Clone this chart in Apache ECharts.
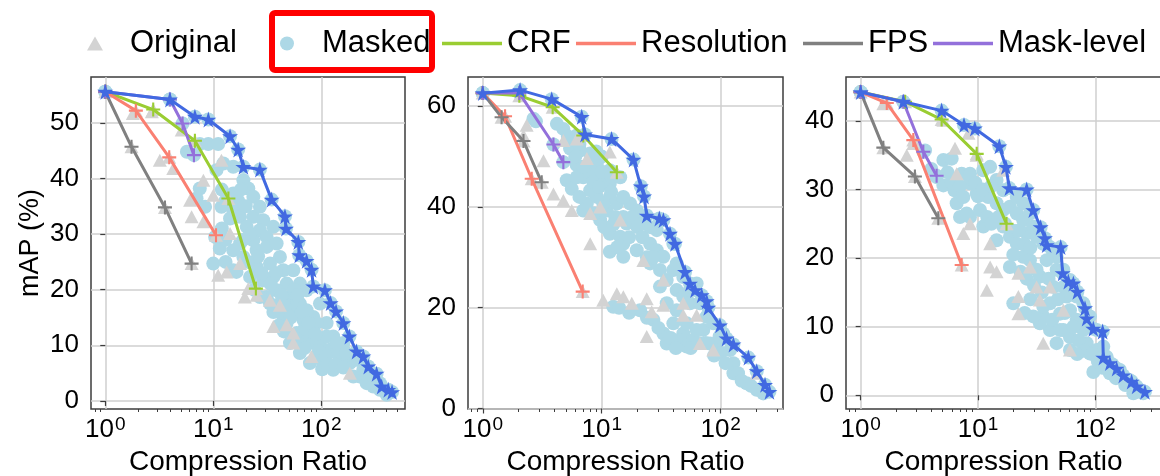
<!DOCTYPE html>
<html>
<head>
<meta charset="utf-8">
<title>mAP vs Compression Ratio</title>
<script src="https://cdn.jsdelivr.net/npm/echarts@6.0.0/dist/echarts.min.js"></script>
<style>
  html, body { margin: 0; padding: 0; background: #ffffff; }
  #chart { width: 1160px; height: 476px; }
</style>
</head>
<body>
<div id="chart"></div>
<script>
// ---------- data: [compression ratio, mAP (%)] ----------
const p1Original = [[1,55.6],[1.8,51.7],[2.7,52.0],[3.2,43.3],[4.26,41.8],[5.1,48.7],[6.1,36.1],[6.3,33.1],[8.1,39.7],[8.1,32.2],[10,37.0],[11.9,43.3],[14.3,30.1],[13.3,23.2],[11.1,22.6],[19.6,18.7],[21.1,20.2],[25.2,19.0],[33.5,18.1],[36.0,13.4],[41.4,17.2],[47.8,13.7],[55.1,12.2],[55.1,10.4],[81,8.0],[184,5.0],[17.7,24.7]];
const p1Masked = [[1,55.6],[5.7,44.8],[7.5,46.2],[9.0,46.2],[11.1,46.2],[12.4,42.7],[15.3,42.1],[10.7,41.5],[7.5,38.2],[7.0,36.4],[8.4,34.9],[11.9,34.9],[15.3,37.3],[19.0,39.7],[21.1,38.2],[23.5,36.7],[15.3,34.3],[14.3,32.8],[17.7,33.1],[23.5,33.1],[27.0,34.9],[29.0,32.5],[20.4,31.3],[27.0,30.7],[36.0,31.3],[31.2,29.5],[23.5,28.9],[17.7,28.3],[15.3,27.1],[11.5,27.4],[10.4,29.5],[10,24.7],[15.3,23.5],[16.4,23.2],[19.0,25.9],[25.2,27.1],[31.2,27.7],[38.6,28.3],[41.4,25.9],[33.5,24.7],[25.2,24.1],[21.9,22.3],[29.0,21.7],[36.0,22.3],[44.5,23.5],[47.8,21.1],[38.6,19.9],[31.2,18.7],[33.5,17.5],[27.0,18.7],[41.4,17.5],[51.3,18.7],[55.1,16.3],[47.8,14.0],[63.4,17.5],[68.1,14.6],[59.1,12.2],[73.1,11.6],[51.3,10.4],[84.3,10.4],[63.4,8.6],[90.5,8.0],[104,6.8],[78.5,6.8],[129,5.6],[102,5.7],[120,9.2],[149,7.4],[184,6.8],[198,4.4],[228,4.4],[263,3.2],[303,2.6],[349,2.0],[403,1.1],[97.2,17.5],[84.3,15.1],[112,14.0],[129,11.6],[160,10.4],[55.1,23.5],[63.4,21.1],[73.1,19.9],[84.3,12.8],[97.2,10.4],[139,8.6],[44.5,15.1],[59.1,17.5],[73.1,16.3],[90.5,14.0],[112,11.6],[139,10.4],[171,8.6],[212,7.4],[245,5.6],[303,4.4],[349,3.2],[12,38],[13,36],[17,36],[18,38],[20,35],[22,30],[26,26],[28,23],[34,21],[38,23],[43,19],[46,17],[52,15],[56,20],[60,19],[66,16],[70,13],[76,14],[88,12],[95,9],[110,8],[115,6.5],[135,6.5],[160,6],[12,31],[13,29],[19,29],[21,25],[13,25],[24,20],[36,16],[40,13.5],[45,12.5],[60,10.5],[70,9.5]];
const p1Crf = [[1,55.6],[2.78,52.4],[6.76,46.8],[13.8,36.4],[24.8,20.2]];
const p1Resolution = [[1,55.6],[1.92,52.2],[3.91,43.8],[10.6,29.8]];
const p1Fps = [[1,55.6],[1.75,45.7],[3.57,34.8],[6.3,24.7]];
const p1MaskLevel = [[1,55.6],[3.97,54.2],[5.2,49.9],[6.62,44.2]];
const p1Pareto = [[1,55.6],[3.97,54.2],[6.76,51.1],[9.0,50.6],[14.3,47.6],[17.0,45.2],[19.0,42.1],[27.0,41.6],[34.7,36.2],[46.1,33.2],[47.1,31.0],[61.3,28.6],[62.5,26.2],[73.1,25.2],[81.3,23.6],[84.3,20.6],[108,19.9],[122,17.6],[137,16.1],[160,14.0],[182,11.6],[212,8.9],[245,8.0],[272,6.2],[325,4.9],[362,2.6],[417,2.0],[452,1.6]];

const p2Original = [[1,62.6],[2.2,54.2],[2.34,56.2],[3.24,49.2],[3.93,42.6],[4.76,41.3],[5.6,39.3],[4.76,53.2],[6.17,53.5],[7.5,49.6],[8.0,32.7],[9.7,40.0],[8.0,38.7],[10.3,21.5],[13.4,22.8],[11.7,50.9],[15.2,22.2],[17.9,20.9],[23.9,21.8],[26.3,19.2],[33.0,20.5],[33.0,25.5],[48.5,20.9],[48.5,18.5],[23.9,14.3],[62.8,18.5],[67.0,12.9],[86.7,11.6],[201,7.0],[22.4,29.4],[14.3,37.4]];
const p2Masked = [[1,62.6],[2.67,57.5],[2.8,57.0],[4.76,55.5],[6.17,54.2],[5.6,53.2],[5.42,51.6],[6.58,51.2],[8.0,50.6],[9.1,48.6],[6.17,48.3],[5.08,45.3],[5.6,43.6],[7.0,45.9],[8.0,47.3],[10.3,44.6],[11.7,44.6],[7.5,40.7],[7.0,39.3],[9.7,37.4],[11.0,39.3],[15.2,38.0],[16.2,36.7],[13.4,40.7],[17.3,40.7],[11.7,34.7],[14.3,34.1],[11.7,31.1],[15.2,32.7],[19.7,31.4],[25.5,32.7],[29.0,31.4],[25.5,28.8],[33.0,30.1],[30.9,27.5],[35.2,25.5],[40.0,27.5],[42.7,23.5],[48.5,22.2],[55.2,20.9],[62.8,24.8],[12.5,20.2],[21.0,19.5],[27.2,17.6],[33.0,14.9],[40.0,16.9],[48.5,14.9],[35.2,12.9],[45.5,13.6],[51.8,12.3],[58.9,13.6],[71.4,15.6],[81.3,12.9],[92.5,12.3],[105,14.9],[120,11.6],[128,9.0],[128,7.0],[165,5.0],[201,3.7],[228,3.0],[29.0,35.4],[25.5,36.0],[22.4,37.4],[19.7,39.3],[15.2,42.0],[11.7,42.0],[10.3,40.7],[9.1,42.0],[8.6,38.7],[8.0,43.3],[6.17,45.9],[9.1,46.6],[11.7,47.3],[14.3,45.9],[40.0,32.7],[42.7,28.8],[48.5,26.1],[55.2,23.5],[67.0,20.9],[76.0,18.2],[86.7,16.9],[98.0,14.3],[30.9,24.2],[35.2,20.9],[42.7,19.5],[51.8,16.9],[62.8,15.6],[15.2,30.1],[4.2,56.5],[5.2,54],[6.5,52.5],[9,51],[10,50],[6,50],[7,48],[8.5,45],[10,47],[12,46],[6.5,42],[9.5,44],[12,43],[13,38],[10.5,36],[12.5,36.5],[13.5,32],[17,34],[18,38],[20,36],[22,34],[24,30],[27,30],[14,20],[17,19],[24,18],[30,16],[38,14],[42,12],[56,12],[65,13],[75,13],[88,10.5],[100,11],[110,9],[140,7],[150,5.5],[180,4.5]];
const p2Crf = [[1,62.6],[2.03,62.1],[3.87,59.8],[7.0,54.2],[13.4,46.9]];
const p2Resolution = [[1,62.6],[1.54,58.0],[2.58,45.6],[6.92,23.2]];
const p2Fps = [[1,62.6],[1.44,57.8],[2.2,53.1],[3.13,44.9]];
const p2MaskLevel = [[1,62.6],[2.03,62.6],[3.93,52.4],[4.76,48.9]];
const p2Pareto = [[1,62.6],[2.06,63.2],[3.80,61.4],[6.79,57.9],[7.24,54.4],[12.1,53.5],[18.5,49.4],[21.3,44.1],[22.7,42.1],[23.9,38.3],[30.5,37.7],[33.0,37.4],[37.5,34.7],[41.3,32.7],[50.2,27.1],[55.2,24.8],[60.9,23.5],[69.2,22.5],[76.3,21.3],[78.7,20.0],[98.7,16.5],[112,13.9],[128,12.7],[171,10.1],[201,7.4],[236,4.7],[257,3.3]];

const p3Original = [[1,44.2],[1.56,42.5],[2.47,35.0],[2.81,36.7],[5.07,40.1],[6.37,36.0],[6.58,32.3],[7.5,23.6],[8.55,25.0],[8.3,38.2],[9.75,35.0],[11.9,15.3],[12.7,22.1],[12.7,18.7],[14.4,18.0],[16.4,32.8],[22.1,17.8],[22.1,14.4],[22.1,11.9],[27.7,18.7],[31.6,15.8],[33.7,13.9],[36.0,7.6],[41.1,15.8],[53.4,12.4],[60.8,6.6]];
const p3Masked = [[1,44.2],[3.54,35.7],[5.07,34.3],[5.97,34.5],[7.26,32.3],[4.44,31.8],[5.07,30.6],[6.3,29.9],[6.58,28.0],[7.5,28.9],[8.55,30.9],[8.55,32.3],[11.1,32.8],[12.7,33.3],[12.2,28.9],[10.4,27.0],[8.55,26.0],[11.1,24.6],[7.03,26.0],[8.0,26.5],[14.4,28.0],[16.4,27.0],[18.7,27.5],[21.4,26.5],[24.3,25.5],[16.4,24.6],[18.7,23.1],[14.4,22.6],[21.4,22.1],[26.0,23.6],[29.6,24.6],[31.6,23.1],[24.3,20.2],[18.7,18.7],[27.7,19.7],[31.6,18.3],[38.5,19.7],[43.9,20.7],[46.8,18.3],[33.7,17.3],[43.9,15.8],[53.4,15.8],[57.0,14.4],[41.1,13.4],[36.0,11.5],[50.0,11.9],[60.8,12.4],[69.3,11.0],[53.4,9.5],[41.1,9.5],[46.8,7.6],[60.8,8.5],[79.1,9.5],[84.4,7.6],[90.1,6.1],[60.8,6.6],[33.7,10.5],[29.6,11.5],[20.0,13.4],[36.0,12.9],[103,6.6],[117,7.1],[125,5.6],[96.2,3.4],[162,3.7],[197,2.2],[211,0.3],[256,0.3],[133,3.2],[24.3,28.0],[27.7,26.5],[36.0,22.1],[41.1,21.6],[46.8,20.2],[53.4,18.3],[60.8,16.8],[69.3,14.4],[79.1,13.4],[90.1,11.5],[103,9.5],[16.4,29.9],[14.4,31.4],[9.75,29.4],[21.4,28.9],[4,33],[5.5,32.5],[6,31],[7,30.5],[9.5,31],[10,29],[11,30],[13,30.5],[12,26],[13,25],[15,26],[17,25],[20,24],[22,24],[25,22],[28,21.5],[20,20.5],[23,18],[26,17],[30,16],[35,15],[40,17],[48,14],[55,12],[65,10],[72,8],[80,6.5],[95,6],[105,5],[115,4],[140,4.5],[150,2.5],[180,1.5],[230,1.0],[43,11],[50,9.5],[70,6],[28,14],[25,12]];
const p3Crf = [[1,44.2],[2.39,42.8],[4.90,40.2],[9.75,35.2],[17.5,25.0]];
const p3Resolution = [[1,44.2],[1.67,42.6],[2.81,37.2],[7.26,19.0]];
const p3Fps = [[1,44.2],[1.56,36.1],[2.90,31.9],[4.59,25.8]];
const p3MaskLevel = [[1,44.2],[2.31,42.8],[3.42,35.5],[4.44,32.0]];
const p3Pareto = [[1,44.2],[2.31,42.8],[4.90,41.5],[7.6,39.4],[9.4,38.9],[15.2,36.3],[17.3,33.3],[18.5,30.2],[26.0,30.0],[29.6,27.0],[34.2,24.5],[37.2,22.9],[38.5,21.9],[50.7,21.6],[52.7,17.8],[58.9,16.6],[65.0,16.3],[70.3,15.1],[81.7,12.7],[84.4,11.2],[96.2,9.7],[115.5,9.3],[117,5.5],[133,4.7],[152,3.9],[173,2.9],[204,2.0],[225,1.3],[265,0.5]];

// tick labels
const xDecades = [0, 1, 2];                 // 10^0, 10^1, 10^2
const p1YTicks = [0, 10, 20, 30, 40, 50];
const p2YTicks = [0, 20, 40, 60];
const p3YTicks = [0, 10, 20, 30, 40];

const legendNames = ['Original', 'Masked', 'CRF', 'Resolution', 'FPS', 'Mask-level'];

// ---------- layout & styles ----------
const FONT = '"Liberation Sans", Arial, Helvetica, sans-serif';
const COLORS = {
  Original: '#d3d3d3', Masked: '#add8e6', CRF: '#9acd32',
  Resolution: '#fa8072', FPS: '#808080', 'Mask-level': '#9370db', Pareto: '#4169e1'
};
const STAR = 'path://M50,0 L61.2,34.5 L97.6,34.5 L68.2,55.9 L79.4,90.5 L50,69.1 L20.6,90.5 L31.8,55.9 L2.4,34.5 L38.8,34.5 Z';
const PLUS = 'path://M0,5.1 L12,5.1 L12,6.9 L0,6.9 Z M5.1,0 L6.9,0 L6.9,12 L5.1,12 Z';
// legend handles, 60 x 14 boxes with the marker centred
const ICONS = {
  Original: 'path://M0,0 M60,14 M22,14 L30,0 L38,14 Z',
  Masked: 'path://M0,0 M60,14 M37,7 A7,7 0 1 1 23,7 A7,7 0 1 1 37,7 Z',
  line: 'path://M0,0 M60,14 M0,5.3 L60,5.3 L60,8.7 L0,8.7 Z'
};
// left edge of each legend handle
const LEGEND_X = { Original: 65, Masked: 257, CRF: 442, Resolution: 576, FPS: 803, 'Mask-level': 933 };
const FRAME = '#3d3d3d';
const GRIDLINE = '#cfcfcf';

const panels = [
  { orig: p1Original, masked: p1Masked, crf: p1Crf, res: p1Resolution, fps: p1Fps, mask: p1MaskLevel, pareto: p1Pareto,
    yTicks: p1YTicks, grid: { left: 91, top: 77, width: 314, height: 332 }, x: [-0.132, 2.775], y: [-1.45, 58.25] },
  { orig: p2Original, masked: p2Masked, crf: p2Crf, res: p2Resolution, fps: p2Fps, mask: p2MaskLevel, pareto: p2Pareto,
    yTicks: p2YTicks, grid: { left: 468, top: 77, width: 315, height: 332 }, x: [-0.124, 2.524], y: [-0.1, 65.8] },
  { orig: p3Original, masked: p3Masked, crf: p3Crf, res: p3Resolution, fps: p3Fps, mask: p3MaskLevel, pareto: p3Pareto,
    yTicks: p3YTicks, grid: { left: 846, top: 77, width: 315, height: 332 }, x: [-0.125, 2.56], y: [-2.0, 46.4] }
];

// log10 transform of the ratio so the value axis behaves as a log axis
const toLog = pts => pts.map(p => [Math.log10(p[0]), p[1]]);

function minorTicks(ext) {
  const out = [];
  for (let d = -1; d <= 3; d++) {
    for (let k = 2; k <= 9; k++) {
      const v = Math.log10(k) + d;
      if (v > ext[0] && v < ext[1]) out.push(v);
    }
  }
  return out;
}

const grids = [], xAxes = [], yAxes = [], series = [];

panels.forEach((p, i) => {
  grids.push(Object.assign({
    show: true, borderColor: FRAME, borderWidth: 1.5, backgroundColor: 'transparent',
    containLabel: false, outerBoundsMode: 'none'
  }, p.grid));

  // major axis: decades
  xAxes.push({
    type: 'value', gridIndex: i, min: p.x[0], max: p.x[1], position: 'bottom',
    axisLine: { show: false },
    axisTick: { show: true, customValues: xDecades, length: 5, lineStyle: { color: FRAME, width: 1.2 } },
    axisLabel: {
      customValues: xDecades, margin: 6, color: '#000',
      formatter: v => '{b|10}{s|' + Math.round(v) + '}',
      rich: {
        b: { fontSize: 26, lineHeight: 29, fontFamily: FONT, color: '#000' },
        s: { fontSize: 19, lineHeight: 19, fontFamily: FONT, color: '#000', verticalAlign: 'top', padding: [0, 0, 0, 1] }
      }
    },
    splitLine: { show: true, lineStyle: { color: GRIDLINE, width: 1.5 } },
    name: 'Compression Ratio', nameLocation: 'middle', nameGap: 39,
    nameTextStyle: { fontSize: 28, fontFamily: FONT, color: '#000' }
  });
  // minor axis: 2..9 x 10^n ticks
  xAxes.push({
    type: 'value', gridIndex: i, min: p.x[0], max: p.x[1], position: 'bottom',
    axisLine: { show: false },
    axisTick: { show: true, customValues: minorTicks(p.x), length: 3, lineStyle: { color: FRAME, width: 1 } },
    axisLabel: { show: false },
    splitLine: { show: false }
  });

  yAxes.push({
    type: 'value', gridIndex: i, min: p.y[0], max: p.y[1],
    axisLine: { show: false },
    axisTick: { show: true, customValues: p.yTicks, length: 5, lineStyle: { color: FRAME, width: 1.2 } },
    axisLabel: { customValues: p.yTicks, margin: 12, fontSize: 26, fontFamily: FONT, color: '#000' },
    splitLine: { show: true, lineStyle: { color: GRIDLINE, width: 1.5 } },
    name: i === 0 ? 'mAP (%)' : '', nameLocation: 'middle', nameGap: 47,
    nameTextStyle: { fontSize: 27, fontFamily: FONT, color: '#000' }
  });

  const xi = i * 2;
  series.push({
    name: 'Masked', type: 'scatter', xAxisIndex: xi, yAxisIndex: i, z: 2,
    symbol: 'circle', symbolSize: 14,
    itemStyle: { color: COLORS.Masked, opacity: 1 },
    data: toLog(p.masked.concat(p.pareto, p.mask))
  });
  series.push({
    name: 'Original', type: 'scatter', xAxisIndex: xi, yAxisIndex: i, z: 3,
    symbol: 'triangle', symbolSize: [14, 13],
    itemStyle: { color: COLORS.Original, opacity: 1 },
    data: toLog(p.orig.concat(p.crf.slice(1), p.res.slice(1), p.fps.slice(1)))
  });
  [['CRF', p.crf], ['Resolution', p.res], ['FPS', p.fps], ['Mask-level', p.mask]].forEach(([name, d]) => {
    series.push({
      name, type: 'line', xAxisIndex: xi, yAxisIndex: i, z: 4,
      symbol: PLUS, symbolSize: 14, showSymbol: true,
      lineStyle: { color: COLORS[name], width: 3 },
      itemStyle: { color: COLORS[name] },
      data: toLog(d)
    });
  });
  series.push({
    name: 'Pareto', type: 'line', xAxisIndex: xi, yAxisIndex: i, z: 5,
    symbol: STAR, symbolSize: 16, showSymbol: true,
    lineStyle: { color: COLORS.Pareto, width: 3 },
    itemStyle: { color: COLORS.Pareto },
    data: toLog(p.pareto)
  });
});

// one legend component per entry so each handle sits at its own x
const legends = legendNames.map(n => ({
  left: LEGEND_X[n], top: 28, padding: 0,
  itemWidth: 60, itemHeight: 14, itemGap: 0,
  selectedMode: false,
  textStyle: { fontSize: 31, fontFamily: FONT, color: '#000' },
  data: [{ name: n, icon: ICONS[n] || ICONS.line, itemStyle: { color: COLORS[n], borderWidth: 0 } }]
}));

const chart = echarts.init(document.getElementById('chart'), null, { renderer: 'canvas' });
chart.setOption({
  animation: false,
  backgroundColor: '#ffffff',
  textStyle: { fontFamily: FONT },
  grid: grids,
  xAxis: xAxes,
  yAxis: yAxes,
  legend: legends,
  graphic: [{
    type: 'rect', left: 269, top: 10, z: 100,
    shape: { width: 160, height: 57, r: 3 },
    style: { fill: 'none', stroke: '#ff0000', lineWidth: 6 }
  }],
  series
});
</script>
</body>
</html>
